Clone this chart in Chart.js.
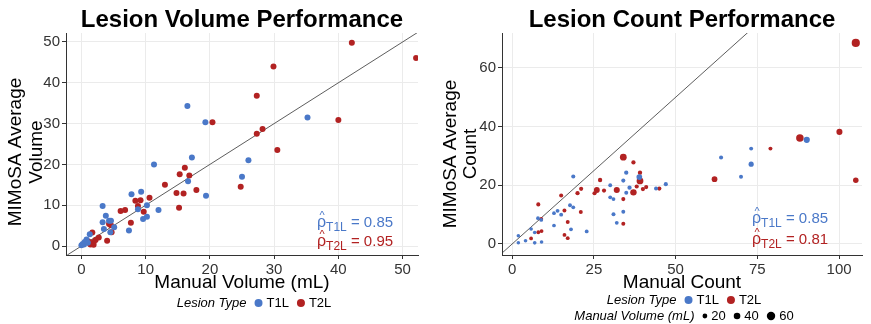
<!DOCTYPE html>
<html>
<head>
<meta charset="utf-8">
<script src="https://cdn.jsdelivr.net/npm/chart.js@4.4.1/dist/chart.umd.min.js"></script>
<style>
  html, body { margin: 0; padding: 0; background: #fff; }
  #wrap { position: relative; width: 871px; height: 324px; overflow: hidden; }
  .panel { position: absolute; top: 0; height: 324px; }
</style>
</head>
<body>
<div id="wrap">
  <div class="panel" style="left:0;width:435px"><canvas id="volChart" width="435" height="324"></canvas></div>
  <div class="panel" style="left:435px;width:436px"><canvas id="countChart" width="436" height="324"></canvas></div>
</div>
<script>
// ---- data ----
// Lesion volume panel (mL)
const t1VolManual = [17.2, 11.3, 26.0, 25.0, 16.6, 19.4, 7.8, 9.3, 3.3, 10.2, 8.8, 12.0, 3.8, 9.6, 10.2, 3.3, 4.3, 4.6, 5.1, 3.5, 7.4, 4.5, 1.3, 0.8, 0.4, 0.0, 16.5, 19.3, 35.2, 0.5, 0.2, 1.0];
const t1VolMimosa = [21.7, 20.0, 21.0, 17.0, 15.9, 12.3, 12.7, 13.3, 9.8, 10.0, 9.0, 8.8, 7.4, 6.6, 7.2, 5.8, 6.2, 6.2, 4.6, 4.2, 3.8, 3.4, 2.9, 1.6, 0.4, 0.2, 34.3, 30.3, 31.5, 1.0, 0.5, 0.8];
const t2VolManual = [16.1, 15.3, 16.8, 13.0, 14.8, 15.9, 17.9, 15.2, 24.8, 10.6, 8.4, 9.2, 8.8, 9.7, 6.8, 6.1, 7.7, 4.3, 4.6, 4.7, 1.7, 2.7, 4.0, 1.1, 1.9, 1.4, 1.9, 20.4, 27.3, 27.3, 42.1, 52.1, 29.9, 40.0, 28.2, 30.5, 1.2, 2.2];
const t2VolMimosa = [19.2, 17.6, 17.3, 15.0, 13.0, 12.9, 13.7, 9.4, 14.5, 11.8, 11.1, 11.2, 9.8, 8.4, 8.8, 8.6, 5.7, 5.4, 5.1, 3.4, 3.3, 2.1, 1.3, 1.1, 1.0, 0.4, 0.3, 30.3, 36.8, 27.5, 49.8, 46.1, 44.0, 30.9, 28.7, 23.5, 0.8, 1.5];

// Lesion count panel (count, with manual volume for point size)
const t1CountManual = [18.7, 34.9, 38.9, 30, 34, 34.9, 35.9, 30, 31, 44, 47, 17.7, 18.7, 13.9, 12.8, 15, 31, 34, 32, 7.9, 8.9, 12.8, 18, 22.8, 5.8, 6.9, 1.9, 1.9, 4.1, 6.9, 9, 63.9, 73.1, 73.1, 70, 90.1];
const t1CountMimosa = [23, 24.3, 22.8, 20, 21.6, 17.5, 19.2, 15.9, 15.3, 18.9, 20.4, 13.2, 12.5, 11.3, 10.5, 10, 10.1, 11, 7.2, 8.8, 8.2, 6.3, 5, 4.3, 5.1, 3.9, 2.8, 0.4, 1.1, 0.4, 0.7, 29.5, 32.5, 27.2, 22.9, 35.5];
const t1CountVolume = [12, 14, 30, 10, 12, 11, 14, 10, 9, 11, 13, 10, 9, 9, 8, 10, 11, 10, 9, 8, 8, 8, 9, 9, 7, 7, 6, 6, 7, 7, 7, 12, 11, 24, 11, 36];
const t2CountManual = [34, 37.1, 39.1, 39.1, 37.1, 32, 25.9, 25.2, 26.9, 21.1, 20, 28.1, 34, 38.1, 40, 41, 45, 15, 16, 21, 8, 8.9, 9, 8, 5.8, 17, 16, 17, 34, 105.1, 88, 100.1, 79, 61.9, 105.1];
const t2CountMimosa = [29.6, 27.8, 24.3, 21.5, 17.6, 18.4, 18.4, 17.3, 21.8, 18.8, 17.3, 18.2, 15.3, 19.6, 18.7, 19.4, 18.9, 16.5, 11.4, 10.9, 13.5, 8.5, 4.4, 4, 1.9, 7.5, 3.1, 2, 6.9, 68.5, 36.1, 38.2, 32.5, 22.1, 21.7];
const t2CountVolume = [42, 14, 15, 42, 38, 34, 32, 13, 15, 13, 14, 13, 12, 13, 14, 13, 14, 12, 11, 11, 12, 10, 9, 9, 8, 10, 9, 9, 11, 58, 50, 34, 11, 30, 28];

const lesionTypes = ['T1L', 'T2L'];
const sizeBreaks = [20, 40, 60];
const rhoVolume = ['0.85', '0.95'];
const rhoCount = ['0.85', '0.81'];

const BLUE = '#4a78c8';
const RED = '#b22222';
const FONT = "'Liberation Sans', Arial, sans-serif";

function pts(xs, ys) { return xs.map((x, i) => ({ x: x, y: ys[i] })); }
function sizeRadius(v) { return 1.5 + 0.045 * v; }

// y = x reference line, clipped to plot area
const identityLine = {
  id: 'identityLine',
  beforeDatasetsDraw(chart) {
    const { ctx, chartArea: a, scales: { x, y } } = chart;
    const lo = Math.max(x.min, y.min), hi = Math.min(x.max, y.max) + 20;
    ctx.save();
    ctx.beginPath();
    ctx.rect(a.left, a.top, a.right - a.left, a.bottom - a.top);
    ctx.clip();
    ctx.strokeStyle = '#333';
    ctx.lineWidth = 0.8;
    ctx.beginPath();
    ctx.moveTo(x.getPixelForValue(lo), y.getPixelForValue(lo));
    ctx.lineTo(x.getPixelForValue(hi), y.getPixelForValue(hi));
    ctx.stroke();
    ctx.restore();
  }
};

// panel title, y title, rho annotations and legend
const decorations = {
  id: 'decorations',
  afterDraw(chart, args, o) {
    const { ctx, chartArea: a } = chart;
    ctx.save();
    ctx.fillStyle = '#000';
    ctx.font = 'bold 24px ' + FONT;
    ctx.textAlign = 'center';
    ctx.textBaseline = 'alphabetic';
    ctx.fillText(o.title, (a.left + a.right) / 2, 27);

    // y axis title, two lines
    ctx.save();
    ctx.translate(0, o.yTitleY);
    ctx.rotate(-Math.PI / 2);
    ctx.font = '19px ' + FONT;
    ctx.textBaseline = 'middle';
    o.yTitle.forEach((t, i) => ctx.fillText(t, 0, o.yTitleX[i]));
    ctx.restore();

    // rho hats
    ctx.textAlign = 'left';
    o.rho.forEach((val, i) => {
      const col = i === 0 ? BLUE : RED;
      const base = o.rhoY[i];
      let x0 = o.rhoX;
      ctx.fillStyle = col;
      ctx.font = '16px ' + FONT;
      ctx.fillText('\u03C1', x0, base);
      const rw = ctx.measureText('\u03C1').width;
      ctx.font = '11px ' + FONT;
      ctx.textAlign = 'center';
      ctx.fillText('^', x0 + rw / 2 + 0.5, base - 8);
      ctx.textAlign = 'left';
      ctx.font = '12px ' + FONT;
      ctx.fillText(lesionTypes[i], x0 + rw, base + 4);
      const sw = ctx.measureText(lesionTypes[i]).width;
      ctx.font = '15px ' + FONT;
      ctx.fillText(' = ' + val, x0 + rw + sw, base);
    });

    // legend rows
    ctx.textBaseline = 'middle';
    o.legendRows.forEach(row => {
      ctx.font = 'italic 13px ' + FONT;
      const lw = ctx.measureText(row.label).width;
      ctx.font = '13px ' + FONT;
      let total = lw;
      row.items.forEach(it => { total += 8 + 2 * it.r + 4 + ctx.measureText(it.text).width; });
      let x = row.cx - total / 2;
      ctx.fillStyle = '#000';
      ctx.font = 'italic 13px ' + FONT;
      ctx.fillText(row.label, x, row.y);
      x += lw;
      ctx.font = '13px ' + FONT;
      row.items.forEach(it => {
        x += 8 + it.r;
        ctx.fillStyle = it.color;
        ctx.beginPath();
        ctx.arc(x, row.y, it.r, 0, Math.PI * 2);
        ctx.fill();
        x += it.r + 4;
        ctx.fillStyle = '#000';
        ctx.fillText(it.text, x, row.y);
        x += ctx.measureText(it.text).width;
      });
    });
    ctx.restore();
  }
};

function onStep(step) {
  return s => {
    const ticks = [];
    for (let v = Math.ceil(s.min / step) * step; v <= s.max + 1e-9; v += step) ticks.push({ value: v });
    s.ticks = ticks;
  };
}

function axis(min, max, step, title, fitW, fitH) {
  const ax = {
    type: 'linear', min: min, max: max,
    afterBuildTicks: onStep(step),
    ticks: { stepSize: step, color: '#333', font: { family: FONT, size: 15 }, padding: 2 },
    grid: { color: '#ebebeb', lineWidth: 1, tickColor: '#333', tickLength: 4 },
    border: { display: true, color: '#333', width: 1 },
    title: { display: !!title, text: title, color: '#000', font: { family: FONT, size: 19, lineHeight: 1.1 }, padding: { top: 0, bottom: 2 } }
  };
  if (fitW) ax.afterFit = s => { s.width = fitW; };
  if (fitH) ax.afterFit = s => { s.height = fitH; };
  return ax;
}

function makeChart(id, cfg) {
  return new Chart(document.getElementById(id), {
    type: 'scatter',
    data: {
      datasets: [
        { label: 'T1L', data: cfg.t1, backgroundColor: BLUE, borderWidth: 0, pointRadius: cfg.r1, pointHoverRadius: cfg.r1 },
        { label: 'T2L', data: cfg.t2, backgroundColor: RED, borderWidth: 0, pointRadius: cfg.r2, pointHoverRadius: cfg.r2 }
      ]
    },
    options: {
      responsive: false,
      animation: false,
      layout: { padding: { top: 33, bottom: 29, left: 0, right: cfg.padRight } },
      scales: {
        x: axis(cfg.x[0], cfg.x[1], cfg.x[2], cfg.xTitle, null, 40),
        y: axis(cfg.y[0], cfg.y[1], cfg.y[2], '', cfg.yWidth, null)
      },
      plugins: {
        legend: { display: false },
        tooltip: { enabled: false },
        decorations: cfg.deco
      }
    },
    plugins: [identityLine, decorations]
  });
}

makeChart('volChart', {
  t1: pts(t1VolManual, t1VolMimosa),
  t2: pts(t2VolManual, t2VolMimosa),
  r1: 3, r2: 3,
  x: [-2.4, 52.4, 10], y: [-2.2, 52.2, 10],
  xTitle: 'Manual Volume (mL)',
  yWidth: 66, padRight: 17,
  deco: {
    title: 'Lesion Volume Performance',
    yTitle: ['MIMoSA Average', 'Volume'], yTitleX: [16, 37], yTitleY: 152,
    rho: rhoVolume, rhoX: 317, rhoY: [227, 246],
    legendRows: [
      { y: 303, cx: 254, label: 'Lesion Type', items: [{ r: 4, color: BLUE, text: lesionTypes[0] }, { r: 4, color: RED, text: lesionTypes[1] }] }
    ]
  }
});

makeChart('countChart', {
  t1: pts(t1CountManual, t1CountMimosa),
  t2: pts(t2CountManual, t2CountMimosa),
  r1: c => sizeRadius(t1CountVolume[c.dataIndex]),
  r2: c => sizeRadius(t2CountVolume[c.dataIndex]),
  x: [-3.1, 107, 25], y: [-3.75, 71.9, 20],
  xTitle: 'Manual Count',
  yWidth: 67, padRight: 9,
  deco: {
    title: 'Lesion Count Performance',
    yTitle: ['MIMoSA Average', 'Count'], yTitleX: [16, 36], yTitleY: 154,
    rho: rhoCount, rhoX: 317, rhoY: [223, 244],
    legendRows: [
      { y: 300, cx: 249, label: 'Lesion Type', items: [{ r: 4, color: BLUE, text: lesionTypes[0] }, { r: 4, color: RED, text: lesionTypes[1] }] },
      { y: 316, cx: 249, label: 'Manual Volume (mL)', items: sizeBreaks.map(v => ({ r: sizeRadius(v), color: '#000', text: String(v) })) }
    ]
  }
});
</script>
</body>
</html>
